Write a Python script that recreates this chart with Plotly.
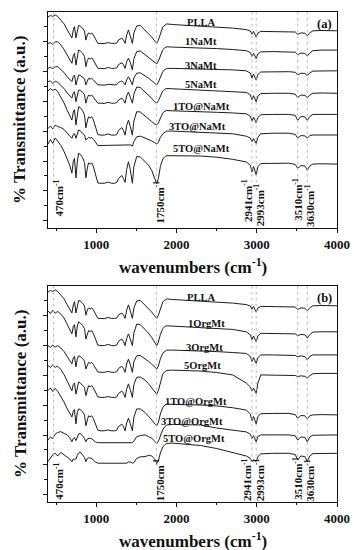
import plotly.graph_objects as go

# ---------------- data ----------------
WN = [400, 430, 460, 490, 520,
      560, 600, 640, 670, 698,
      715, 730, 748, 765, 781,
      800, 830, 855, 872, 890,
      905, 925, 945, 965, 990,
      1021, 1060, 1100, 1150, 1190,
      1230, 1257, 1277, 1300, 1320,
      1340, 1360, 1380, 1402, 1425,
      1451, 1470, 1505, 1550, 1609,
      1650, 1692, 1730, 1754, 1775,
      1800, 1830, 1857, 1880, 1950,
      2100, 2300, 2500, 2700, 2870,
      2920, 2941, 2960, 2993, 3015,
      3050, 3200, 3400, 3480, 3510,
      3550, 3600, 3630, 3660, 3700,
      3800, 4000]

PLLA = [3.0, 3.5, 3.2, 3.7, 3.2,
        2.0, 0.7, -1.3, -2.7, -4.0,
        -1.3, -0.2, -4.0, -1.3, 0.2,
        0.0, -0.7, -1.7, -4.7, -3.0,
        -2.3, -2.7, -2.3, -3.0, -4.3,
        -5.8, -5.8, -5.9, -5.5, -5.8,
        -5.8, -5.7, -4.7, -4.3, -4.0,
        -4.7, -5.8, -3.0, -1.3, -3.3,
        -5.8, -2.3, 0.0, 0.2, -1.3,
        -2.3, -3.7, -5.0, -5.8, -4.7,
        -2.3, -0.3, 0.3, 0.7, 0.5,
        0.3, 0.0, -0.3, -0.7, -1.2,
        -1.7, -2.7, -1.8, -3.7, -2.3,
        -1.8, -1.8, -1.8, -2.0, -2.8,
        -2.3, -2.4, -3.3, -2.3, -1.6,
        -1.5, -1.6]

NAMT_1 = [1.5, 1.8, 1.2, 2.0, 2.1,
          1.0, -0.5, -2.3, -3.5, -5.1,
          -2.5, -1.8, -5.7, -2.3, -0.7,
          -0.9, -1.7, -2.8, -6.2, -4.2,
          -3.4, -3.7, -3.3, -4.0, -5.4,
          -6.8, -6.8, -6.9, -6.5, -6.8,
          -6.8, -6.6, -5.6, -5.2, -4.9,
          -5.6, -6.8, -4.6, -3.4, -4.8,
          -7.3, -3.6, -1.2, -1.0, -2.2,
          -3.0, -3.9, -4.8, -5.3, -4.4,
          -2.4, -0.6, 0.1, 0.4, 0.3,
          0.2, 0.0, -0.2, -0.5, -0.9,
          -1.5, -2.8, -1.8, -3.5, -2.0,
          -1.3, -1.2, -1.2, -1.4, -2.2,
          -1.7, -1.8, -2.7, -1.7, -0.9,
          -0.7, -0.7]

NAMT_3 = [0.2, 0.6, 0.1, 0.7, 0.8,
          -0.2, -1.2, -2.6, -3.3, -4.2,
          -2.5, -2.0, -5.3, -3.0, -2.0,
          -2.1, -2.6, -3.3, -5.3, -3.9,
          -3.1, -3.4, -3.1, -3.6, -4.5,
          -5.3, -5.3, -5.4, -5.1, -5.3,
          -5.3, -5.2, -4.5, -4.2, -4.0,
          -4.5, -5.3, -3.6, -2.6, -3.7,
          -5.3, -3.0, -1.4, -1.3, -2.2,
          -3.0, -3.9, -4.8, -5.3, -4.4,
          -2.5, -0.8, -0.2, 0.2, 0.2,
          0.1, 0.0, -0.1, -0.3, -0.6,
          -1.4, -3.0, -1.7, -3.7, -1.8,
          -1.0, -0.9, -0.9, -1.1, -2.0,
          -1.4, -1.5, -2.2, -1.3, -0.7,
          -0.6, -0.6]

NAMT_5 = [2.8, 3.0, 2.2, 2.9, 2.6,
          1.6, 0.5, -1.0, -1.9, -2.7,
          -1.0, -0.6, -3.9, -1.4, 0.0,
          -0.1, -0.7, -1.6, -4.4, -2.7,
          -1.7, -2.0, -1.7, -2.4, -3.4,
          -4.4, -4.4, -4.5, -4.1, -4.4,
          -4.4, -4.2, -3.4, -3.0, -2.7,
          -3.4, -4.4, -2.0, -0.7, -2.4,
          -4.4, -1.4, 1.0, 0.8, -0.6,
          -1.7, -2.8, -3.9, -4.4, -3.6,
          -1.8, -0.3, 0.3, 0.5, 0.4,
          0.2, 0.0, -0.2, -0.4, -0.8,
          -1.6, -3.2, -1.9, -3.9, -2.0,
          -1.2, -1.1, -1.1, -1.4, -2.5,
          -1.7, -1.8, -2.6, -1.7, -1.1,
          -1.0, -1.1]

TO_NAMT_1 = [7.0, 7.8, 7.2, 7.6, 6.8,
             5.0, 3.0, 0.5, -1.0, -2.7,
             0.0, 0.8, -4.3, -0.5, 1.8,
             1.5, 0.5, -1.0, -5.3, -3.0,
             -1.6, -2.0, -1.6, -2.6, -4.6,
             -7.5, -7.7, -7.7, -7.3, -7.7,
             -7.7, -7.5, -6.2, -5.6, -5.2,
             -6.2, -7.7, -4.5, -2.7, -4.8,
             -7.7, -3.0, 0.1, 0.0, -1.2,
             -2.2, -3.2, -4.0, -4.3, -3.6,
             -1.8, -0.3, 0.3, 0.5, 0.4,
             0.2, 0.0, -0.1, -0.3, -0.6,
             -1.4, -3.0, -1.7, -3.6, -1.8,
             -0.9, -0.8, -0.8, -1.1, -2.8,
             -1.5, -1.6, -2.8, -1.5, -0.8,
             -0.8, -0.8]

TO_NAMT_3 = [1.2, 2.0, 1.0, 2.3, 1.8,
             1.5, 0.8, -0.3, -1.0, -2.1,
             -0.8, -0.5, -2.1, -0.6, 0.7,
             0.4, -0.3, -1.0, -2.7, -2.0,
             -1.8, -2.0, -1.8, -2.4, -3.4,
             -4.5, -4.5, -4.5, -4.5, -4.5,
             -4.5, -4.5, -4.5, -4.5, -4.5,
             -4.5, -4.5, -4.5, -4.4, -4.3,
             -4.7, -3.2, -1.6, -1.4, -2.0,
             -2.4, -3.0, -3.6, -4.0, -3.4,
             -1.8, -0.6, -0.1, 0.3, 0.3,
             0.1, 0.0, -0.2, -0.6, -1.4,
             -2.0, -3.2, -2.2, -3.8, -1.8,
             -0.6, -0.4, -0.4, -0.8, -2.0,
             -1.2, -1.3, -2.0, -1.2, -1.0,
             -1.0, -1.0]

TO_NAMT_5 = [4.0, 5.5, 4.2, 6.0, 5.0,
             3.5, 1.5, -1.2, -3.0, -5.7,
             -1.8, -0.8, -7.3, -2.0, 0.9,
             0.6, -0.5, -2.2, -7.3, -4.0,
             -2.3, -2.7, -2.3, -3.5, -6.0,
             -9.0, -9.1, -9.1, -8.7, -9.1,
             -9.1, -8.8, -7.5, -7.0, -6.5,
             -7.5, -8.8, -4.5, -1.9, -4.5,
             -9.1, -3.5, -0.2, -0.3, -1.8,
             -3.0, -4.8, -7.5, -9.3, -7.5,
             -3.5, -1.0, -0.2, 0.1, 0.1,
             0.0, 0.0, -0.4, -1.1, -2.0,
             -3.0, -5.3, -3.5, -6.3, -3.5,
             -2.5, -2.4, -2.4, -2.8, -4.1,
             -3.2, -3.3, -4.7, -3.3, -2.7,
             -2.6, -2.7]

ORGMT_1 = [5.4, 4.5, 5.6, 4.6, 5.2,
           4.3, 3.0, 0.8, -0.8, -2.3,
           0.2, 0.8, -3.3, 0.3, 1.7,
           1.4, 0.5, -0.5, -4.0, -2.0,
           -1.2, -1.5, -1.2, -2.2, -4.0,
           -6.0, -6.2, -6.2, -5.8, -6.2,
           -6.2, -6.0, -4.8, -4.3, -4.0,
           -4.8, -6.2, -3.8, -2.3, -4.0,
           -6.2, -2.0, 1.0, 0.8, -0.8,
           -2.0, -3.5, -5.3, -6.2, -5.0,
           -2.5, -0.5, 0.2, 0.4, 0.3,
           0.1, 0.0, -0.3, -0.8, -1.6,
           -2.6, -4.2, -3.0, -4.9, -3.0,
           -2.1, -2.1, -2.1, -2.3, -2.9,
           -2.5, -2.6, -3.7, -2.6, -1.7,
           -1.6, -1.6]

ORGMT_3 = [1.8, 1.2, 2.0, 1.3, 1.8,
           1.0, -0.2, -1.8, -3.0, -4.3,
           -2.3, -1.8, -5.3, -2.5, -1.6,
           -1.8, -2.5, -3.4, -6.0, -4.4,
           -3.8, -4.1, -3.8, -4.5, -5.8,
           -7.0, -7.1, -7.1, -6.8, -7.1,
           -7.1, -6.9, -5.8, -5.4, -5.1,
           -5.8, -7.1, -4.3, -2.7, -4.5,
           -7.1, -3.5, -1.6, -1.5, -2.5,
           -3.4, -4.4, -5.5, -6.0, -5.0,
           -2.6, -0.7, 0.0, 0.3, 0.3,
           0.2, 0.0, -0.2, -0.5, -0.8,
           -1.8, -3.5, -2.2, -4.1, -2.2,
           -1.3, -1.3, -1.3, -1.5, -1.9,
           -1.6, -1.9, -3.0, -1.8, -1.3,
           -1.3, -1.3]

ORGMT_5 = [1.8, 1.2, 2.0, 1.2, 1.6,
           0.5, -1.2, -3.3, -5.0, -6.6,
           -4.5, -4.0, -7.7, -5.0, -3.7,
           -3.9, -4.6, -5.5, -8.2, -6.0,
           -4.9, -5.2, -4.9, -5.6, -7.0,
           -8.6, -8.8, -8.8, -8.5, -8.8,
           -8.8, -8.6, -7.5, -7.0, -6.7,
           -7.4, -8.8, -6.0, -4.3, -6.2,
           -8.8, -4.5, -2.1, -2.0, -3.0,
           -4.2, -5.5, -7.0, -7.7, -6.5,
           -3.5, -1.0, -0.2, 0.2, 0.3,
           0.2, 0.0, -0.5, -1.3, -4.0,
           -5.3, -6.7, -5.7, -7.4, -4.0,
           -1.3, -1.3, -1.3, -1.5, -1.9,
           -1.6, -1.8, -2.4, -1.6, -0.9,
           -0.8, -0.8]

TO_ORGMT_1 = [4.8, 5.7, 4.5, 5.5, 4.6,
              3.0, 1.0, -1.3, -2.6, -4.0,
              -2.0, -1.5, -6.3, -2.5, -1.3,
              -1.5, -2.2, -3.3, -6.9, -4.5,
              -3.6, -3.9, -3.6, -4.5, -6.3,
              -8.4, -8.6, -8.6, -8.3, -8.6,
              -8.6, -8.4, -7.2, -6.7, -6.4,
              -7.2, -8.6, -6.0, -4.4, -6.2,
              -8.6, -4.0, -1.3, -1.3, -2.5,
              -3.7, -5.0, -6.3, -6.9, -5.8,
              -3.0, -0.8, 0.0, 0.3, 0.3,
              0.1, 0.0, -0.3, -0.9, -1.7,
              -3.0, -5.3, -3.8, -6.3, -3.8,
              -2.9, -2.8, -2.8, -3.2, -4.4,
              -3.5, -3.6, -4.6, -3.6, -3.3,
              -3.2, -3.3]

TO_ORGMT_3 = [-5.0, -4.0, -4.5, -3.0, -2.5,
              -2.2, -2.8, -3.3, -4.2, -5.6,
              -4.5, -4.2, -5.2, -4.0, -3.0,
              -2.8, -3.5, -4.5, -5.6, -4.6,
              -4.4, -4.4, -4.6, -5.0, -5.6,
              -5.9, -5.9, -5.9, -5.9, -5.9,
              -5.9, -5.9, -5.9, -5.9, -5.9,
              -5.9, -5.9, -5.9, -5.9, -5.9,
              -5.9, -5.3, -3.9, -3.5, -3.3,
              -3.8, -4.4, -5.4, -6.1, -5.4,
              -3.5, -1.5, -0.5, 0.0, 0.2,
              0.1, 0.0, -1.0, -1.8, -2.3,
              -3.0, -4.5, -3.5, -5.6, -3.8,
              -3.3, -3.3, -3.3, -3.6, -5.0,
              -4.0, -4.1, -5.6, -4.0, -3.4,
              -3.3, -3.3]

TO_ORGMT_5 = [-5.9, -4.5, -3.5, -3.1, -4.0,
              -2.8, -3.5, -4.2, -5.0, -5.9,
              -5.0, -5.2, -5.0, -3.8, -3.0,
              -2.6, -3.5, -4.5, -5.9, -4.8,
              -4.6, -4.8, -4.8, -5.4, -6.0,
              -6.4, -6.4, -6.4, -6.4, -6.4,
              -6.4, -6.4, -6.4, -6.4, -6.4,
              -6.4, -6.4, -6.4, -6.0, -6.0,
              -6.4, -6.2, -4.8, -4.3, -4.2,
              -3.8, -4.0, -5.0, -6.4, -5.5,
              -3.0, -1.0, -0.2, 0.2, 0.3,
              0.0, -0.5, -1.5, -2.8, -4.0,
              -4.8, -5.9, -5.2, -5.9, -4.2,
              -3.3, -3.1, -3.1, -3.5, -5.3,
              -4.0, -4.2, -5.9, -4.0, -3.2,
              -3.1, -3.1]

NAMES_A = ["PLLA", "1NaMt", "3NaMt", "5NaMt", "1TO@NaMt", "3TO@NaMt", "5TO@NaMt"]
SPEC_A = [PLLA, NAMT_1, NAMT_3, NAMT_5, TO_NAMT_1, TO_NAMT_3, TO_NAMT_5]
NAMES_B = ["PLLA", "1OrgMt", "3OrgMt", "5OrgMt", "1TO@OrgMt", "3TO@OrgMt", "5TO@OrgMt"]
SPEC_B = [PLLA, ORGMT_1, ORGMT_3, ORGMT_5, TO_ORGMT_1, TO_ORGMT_3, TO_ORGMT_5]

BANDS = [470, 1750, 2941, 2993, 3510, 3630]
X_TICKS = [1000, 2000, 3000, 4000]

for s in SPEC_A + SPEC_B:
    assert len(s) == len(WN)

# ---------------- presentation ----------------
OFF_A = [65.0, 57.67, 50.67, 43.67, 36.33, 29.67, 21.67]
OFF_B = [64.67, 56.0, 48.0, 41.33, 30.0, 23.33, 17.0]
LAB_X_A = [2306, 2306, 2306, 2306, 2306, 2268, 2306]
LAB_DY_A = [1.17, 2.0, 1.33, 1.67, 1.83, 1.67, 2.5]
LAB_X_B = [2306, 2380, 2355, 2330, 2243, 2193, 2218]
LAB_DY_B = [1.33, 1.33, 1.33, 2.0, 1.33, 1.33, 1.67]
BAND_SHIFT = [5, 3, -5, 3, 0, 2.5]
BAND_TXT_Y_A = [0.139, 0.12, 0.13, 0.106, 0.134, 0.106]
BAND_TXT_Y_B = [0.097, 0.102, 0.106, 0.102, 0.111, 0.102]

FONT = "Liberation Serif"
YR = [-2.333, 69.667]

fig = go.Figure()


def add_panel(names, specs, offs, xa, ya):
    for name, spec, off in zip(names, specs, offs):
        fig.add_trace(go.Scatter(
            x=WN, y=[off + v for v in spec], mode="lines",
            line=dict(color="#1c1c1c", width=1.0),
            xaxis=xa, yaxis=ya, name=name, showlegend=False, hoverinfo="skip"))


add_panel(NAMES_A, SPEC_A, OFF_A, "x", "y")
add_panel(NAMES_B, SPEC_B, OFF_B, "x2", "y2")

shapes = []
ann = []
for xr, yr, txt_y, labx, labdy, names, offs, tag in [
        ("x", "y", BAND_TXT_Y_A, LAB_X_A, LAB_DY_A, NAMES_A, OFF_A, "(a)"),
        ("x2", "y2", BAND_TXT_Y_B, LAB_X_B, LAB_DY_B, NAMES_B, OFF_B, "(b)")]:
    for b, sh, ty in zip(BANDS, BAND_SHIFT, txt_y):
        shapes.append(dict(type="line", xref=xr, yref=yr + " domain", x0=b, x1=b,
                           y0=0.21, y1=1, line=dict(color="#b4b4b4", width=0.9, dash="dot")))
        ann.append(dict(xref=xr, yref=yr + " domain", x=b, y=ty, xshift=sh,
                        text="<b>%dcm<sup>-1</sup></b>" % b, textangle=-90, showarrow=False,
                        font=dict(family=FONT, size=11, color="#111"),
                        xanchor="center", yanchor="middle"))
    for n, lx, dy, off in zip(names, labx, labdy, offs):
        ann.append(dict(xref=xr, yref=yr, x=lx, y=off + dy, text="<b>%s</b>" % n,
                        showarrow=False, font=dict(family=FONT, size=10.5, color="#111"),
                        xanchor="center", yanchor="middle"))
    ann.append(dict(xref=xr + " domain", yref=yr + " domain", x=0.99, y=0.945,
                    text="<b>%s</b>" % tag, showarrow=False,
                    font=dict(family=FONT, size=12.5, color="#111"),
                    xanchor="right", yanchor="middle"))
    ann.append(dict(xref="paper", yref=yr + " domain", x=-0.097, y=0.5,
                    text="<b>% Transmittance (a.u.)</b>", textangle=-90, showarrow=False,
                    font=dict(family=FONT, size=17, color="#111"),
                    xanchor="center", yanchor="middle"))
    ann.append(dict(xref=xr + " domain", yref=yr + " domain", x=0.5, y=-0.175,
                    text="<b>wavenumbers (cm<sup>-1</sup>)</b>", showarrow=False,
                    font=dict(family=FONT, size=17, color="#111"),
                    xanchor="center", yanchor="middle"))

xax = dict(range=[400, 4000], tickvals=X_TICKS, ticks="outside", ticklen=4, tickwidth=1,
           tickcolor="#111", showline=True, linecolor="#111", linewidth=1.2, mirror=True,
           showgrid=False, zeroline=False,
           tickfont=dict(family=FONT, size=13, color="#111", weight="bold"),
           minor=dict(dtick=500, tick0=0, ticks="outside", ticklen=2, tickcolor="#111"))
yax = dict(range=YR, dtick=10, tick0=0, ticks="outside", ticklen=4, tickwidth=1,
           tickcolor="#111", showline=True, linecolor="#111", linewidth=1.2, mirror=True,
           showgrid=False, zeroline=False, showticklabels=False,
           minor=dict(dtick=5, tick0=0, ticks="outside", ticklen=3, tickcolor="#111"))

# page body has an 8 px default margin, so the figure is 8 px smaller each way
fig.update_layout(
    width=351, height=542, autosize=False,
    margin=dict(l=40, r=22, t=4, b=48),
    paper_bgcolor="white", plot_bgcolor="white",
    xaxis=dict(xax, anchor="y"),
    yaxis=dict(yax, domain=[0.5592, 1.0], anchor="x"),
    xaxis2=dict(xax, anchor="y2"),
    yaxis2=dict(yax, domain=[0.0, 0.4408], anchor="x2"),
    shapes=shapes, annotations=ann,
)

fig.write_html("out.html")
